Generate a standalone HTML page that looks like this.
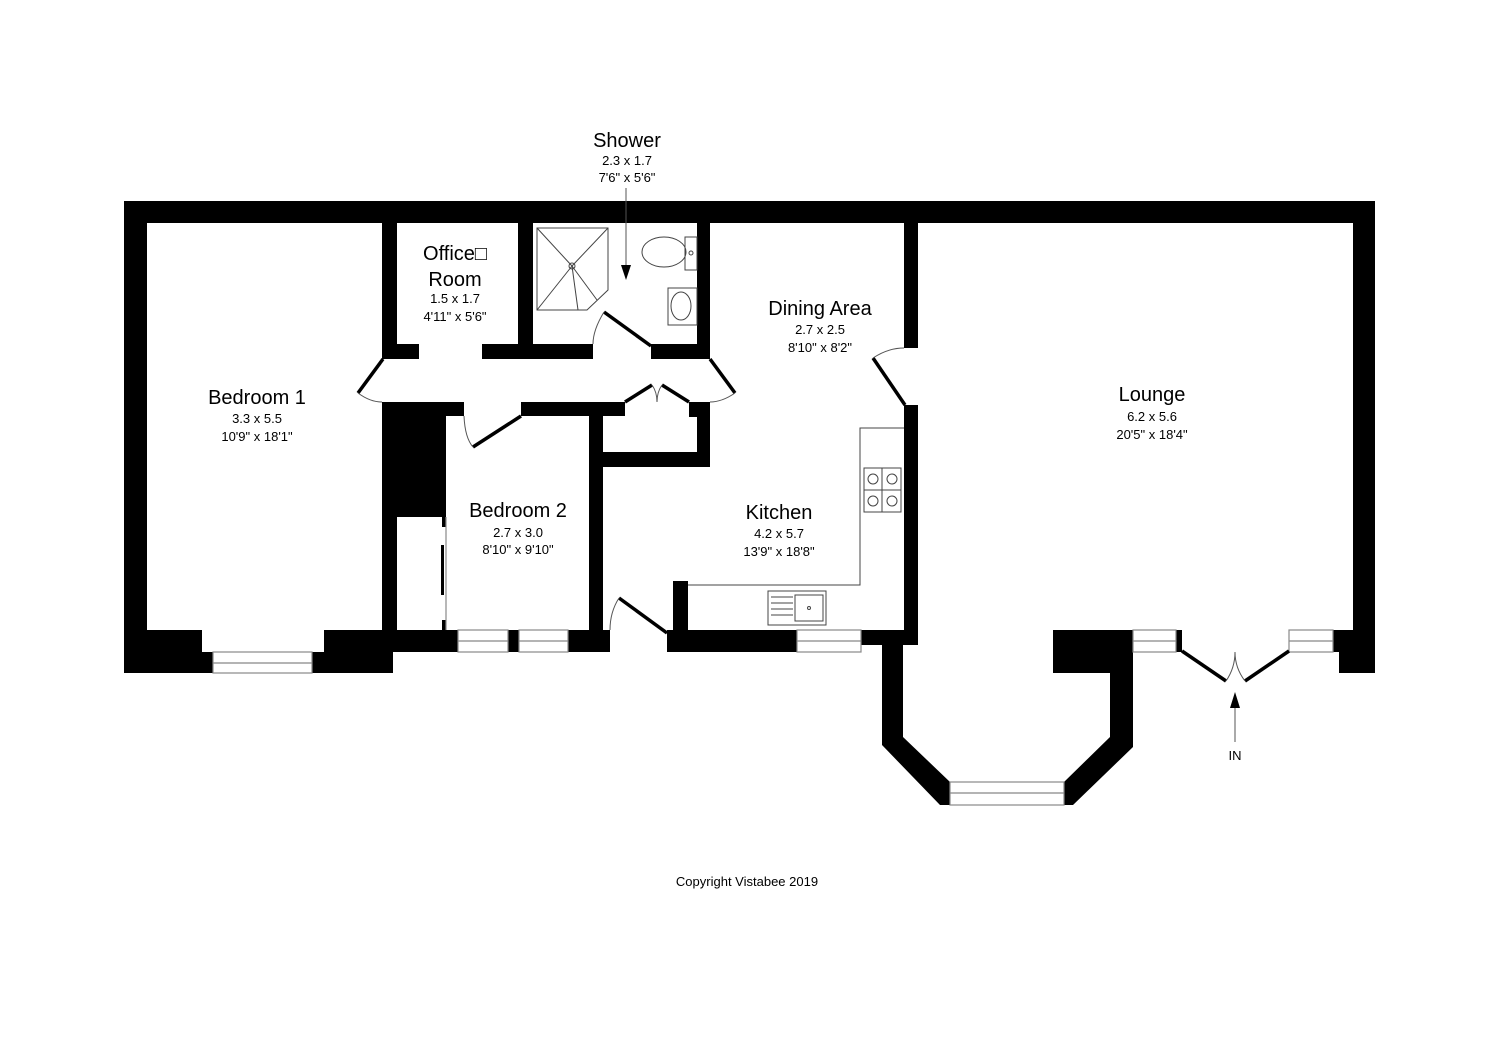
<!DOCTYPE html>
<html><head><meta charset="utf-8"><style>
html,body{margin:0;padding:0;background:#fff;}
svg{display:block;}
text{font-family:"Liberation Sans",Arial,sans-serif;fill:#000;text-anchor:middle;}
.t{font-size:20px}.d{font-size:13px}
</style></head><body>
<svg width="1500" height="1057" viewBox="0 0 1500 1057" xmlns="http://www.w3.org/2000/svg">
<g fill="#000">
<rect x="124" y="201" width="1251" height="22"/>
<rect x="124" y="201" width="23" height="472"/>
<rect x="1353" y="201" width="22" height="450"/>
<rect x="124" y="630" width="78" height="43"/>
<rect x="124" y="652" width="89" height="21"/>
<rect x="324" y="630" width="69" height="43"/>
<rect x="312" y="652" width="81" height="21"/>
<rect x="382" y="402" width="15" height="250"/>
<rect x="382" y="402" width="64" height="115"/>
<rect x="382" y="402" width="82" height="14"/>
<rect x="393" y="630" width="65" height="22"/>
<rect x="442" y="517" width="4" height="10"/>
<rect x="441" y="545" width="3" height="50"/>
<rect x="442" y="620" width="4" height="10"/>
<rect x="521" y="402" width="104" height="14"/>
<rect x="508" y="630" width="11" height="22"/>
<rect x="568" y="630" width="42" height="22"/>
<rect x="589" y="402" width="14" height="228"/>
<rect x="603" y="452" width="107" height="15"/>
<rect x="689" y="402" width="21" height="15"/>
<rect x="697" y="402" width="13" height="65"/>
<rect x="382" y="223" width="15" height="136"/>
<rect x="382" y="344" width="37" height="15"/>
<rect x="482" y="344" width="111" height="15"/>
<rect x="518" y="223" width="15" height="136"/>
<rect x="651" y="344" width="59" height="15"/>
<rect x="697" y="223" width="13" height="136"/>
<rect x="904" y="223" width="14" height="125"/>
<rect x="904" y="405" width="14" height="240"/>
<rect x="673" y="581" width="15" height="49"/>
<rect x="667" y="630" width="130" height="22"/>
<rect x="861" y="630" width="57" height="15"/>
<rect x="580" y="630" width="30" height="22"/>
<polygon points="882,645 903,645 903,737 950,782 950,805 940,805 882,745"/>
<polygon points="1053,630 1133,630 1133,747 1073,805 1064,805 1064,782 1110,737 1110,673 1053,673"/>
<rect x="1176" y="630" width="6" height="22"/>
<rect x="1333" y="630" width="42" height="22"/>
<rect x="1339" y="630" width="36" height="43"/>
</g>
<g fill="none" stroke="#888" stroke-width="1.2">
<rect x="213" y="652" width="99" height="21"/><line x1="213" y1="663" x2="312" y2="663"/>
<rect x="458" y="630" width="50" height="22"/><line x1="458" y1="641" x2="508" y2="641"/>
<rect x="519" y="630" width="49" height="22"/><line x1="519" y1="641" x2="568" y2="641"/>
<rect x="797" y="630" width="64" height="22"/><line x1="797" y1="641" x2="861" y2="641"/>
<rect x="950" y="782" width="114" height="23"/><line x1="950" y1="793" x2="1064" y2="793"/>
<rect x="1133" y="630" width="43" height="22"/><line x1="1133" y1="641" x2="1176" y2="641"/>
<rect x="1289" y="630" width="44" height="22"/><line x1="1289" y1="641" x2="1333" y2="641"/>
<line x1="446" y1="517" x2="446" y2="630"/>
</g>
<g stroke="#000" stroke-width="3.5" fill="none">
<line x1="383" y1="359" x2="358" y2="393"/>
<line x1="710" y1="359" x2="735" y2="393"/>
<line x1="604" y1="312" x2="651" y2="346"/>
<line x1="521" y1="416" x2="473" y2="447"/>
<line x1="625" y1="402" x2="652" y2="385"/>
<line x1="662" y1="385" x2="689" y2="402"/>
<line x1="873" y1="358" x2="905" y2="405"/>
<line x1="619" y1="598" x2="667" y2="633"/>
<line x1="1182" y1="651" x2="1226" y2="681"/>
<line x1="1245" y1="681" x2="1289" y2="651"/>
</g>
<g stroke="#555" stroke-width="1" fill="none">
<path d="M358,393 Q370,402 382,402"/>
<path d="M735,393 Q722,402 710,402"/>
<path d="M604,312 Q593,330 593,344"/>
<path d="M464,416 Q465,438 473,447"/>
<path d="M873,358 Q888,348 904,348"/>
<path d="M619,598 Q610,612 610,630"/>
<path d="M652,385 Q657,392 657,402 Q657,392 662,385"/>
<path d="M1226,681 Q1235,668 1235,652 Q1235,668 1245,681"/>
</g>
<g fill="none" stroke="#444" stroke-width="1">
<polyline points="904,428 860,428 860,585 688,585"/>
<rect x="864" y="468" width="37" height="44"/>
<line x1="882" y1="468" x2="882" y2="512"/><line x1="864" y1="490" x2="901" y2="490"/>
<circle cx="873" cy="479" r="5"/><circle cx="892" cy="479" r="5"/>
<circle cx="873" cy="501" r="5"/><circle cx="892" cy="501" r="5"/>
<rect x="768" y="591" width="58" height="34"/>
<rect x="795" y="595" width="28" height="26"/>
<line x1="771" y1="597" x2="793" y2="597"/><line x1="771" y1="603" x2="793" y2="603"/>
<line x1="771" y1="609" x2="793" y2="609"/><line x1="771" y1="615" x2="793" y2="615"/>
<circle cx="809" cy="608" r="1.5"/>
<polygon points="537,228 608,228 608,290 587,310 537,310"/>
<line x1="537" y1="228" x2="572" y2="266"/><line x1="608" y1="228" x2="572" y2="266"/>
<line x1="537" y1="310" x2="572" y2="266"/><line x1="597" y1="300" x2="572" y2="266"/>
<line x1="578" y1="310" x2="572" y2="266"/>
<circle cx="572" cy="266" r="3"/>
<ellipse cx="664" cy="252" rx="22" ry="15"/>
<rect x="685" y="237" width="12" height="33"/>
<circle cx="691" cy="253" r="2"/>
<rect x="668" y="288" width="29" height="37"/>
<ellipse cx="681" cy="306" rx="10" ry="14"/>
</g>
<line x1="626" y1="188" x2="626" y2="268" stroke="#555" stroke-width="1"/>
<polygon points="621,265 631,265 626,280" fill="#000"/>
<line x1="1235" y1="700" x2="1235" y2="742" stroke="#555" stroke-width="1"/>
<polygon points="1230,708 1240,708 1235,692" fill="#000"/>
<text x="627" y="147" class="t">Shower</text>
<text x="627" y="165" class="d">2.3 x 1.7</text>
<text x="627" y="182" class="d">7'6" x 5'6"</text>
<text x="455" y="260" class="t">Office□</text>
<text x="455" y="286" class="t">Room</text>
<text x="455" y="303" class="d">1.5 x 1.7</text>
<text x="455" y="321" class="d">4'11" x 5'6"</text>
<text x="257" y="404" class="t">Bedroom 1</text>
<text x="257" y="423" class="d">3.3 x 5.5</text>
<text x="257" y="441" class="d">10'9" x 18'1"</text>
<text x="518" y="517" class="t">Bedroom 2</text>
<text x="518" y="537" class="d">2.7 x 3.0</text>
<text x="518" y="554" class="d">8'10" x 9'10"</text>
<text x="820" y="315" class="t">Dining Area</text>
<text x="820" y="334" class="d">2.7 x 2.5</text>
<text x="820" y="352" class="d">8'10" x 8'2"</text>
<text x="779" y="519" class="t">Kitchen</text>
<text x="779" y="538" class="d">4.2 x 5.7</text>
<text x="779" y="556" class="d">13'9" x 18'8"</text>
<text x="1152" y="401" class="t">Lounge</text>
<text x="1152" y="421" class="d">6.2 x 5.6</text>
<text x="1152" y="439" class="d">20'5" x 18'4"</text>
<text x="1235" y="760" class="d">IN</text>
<text x="747" y="886" class="d">Copyright Vistabee 2019</text>
</svg>
</body></html>
